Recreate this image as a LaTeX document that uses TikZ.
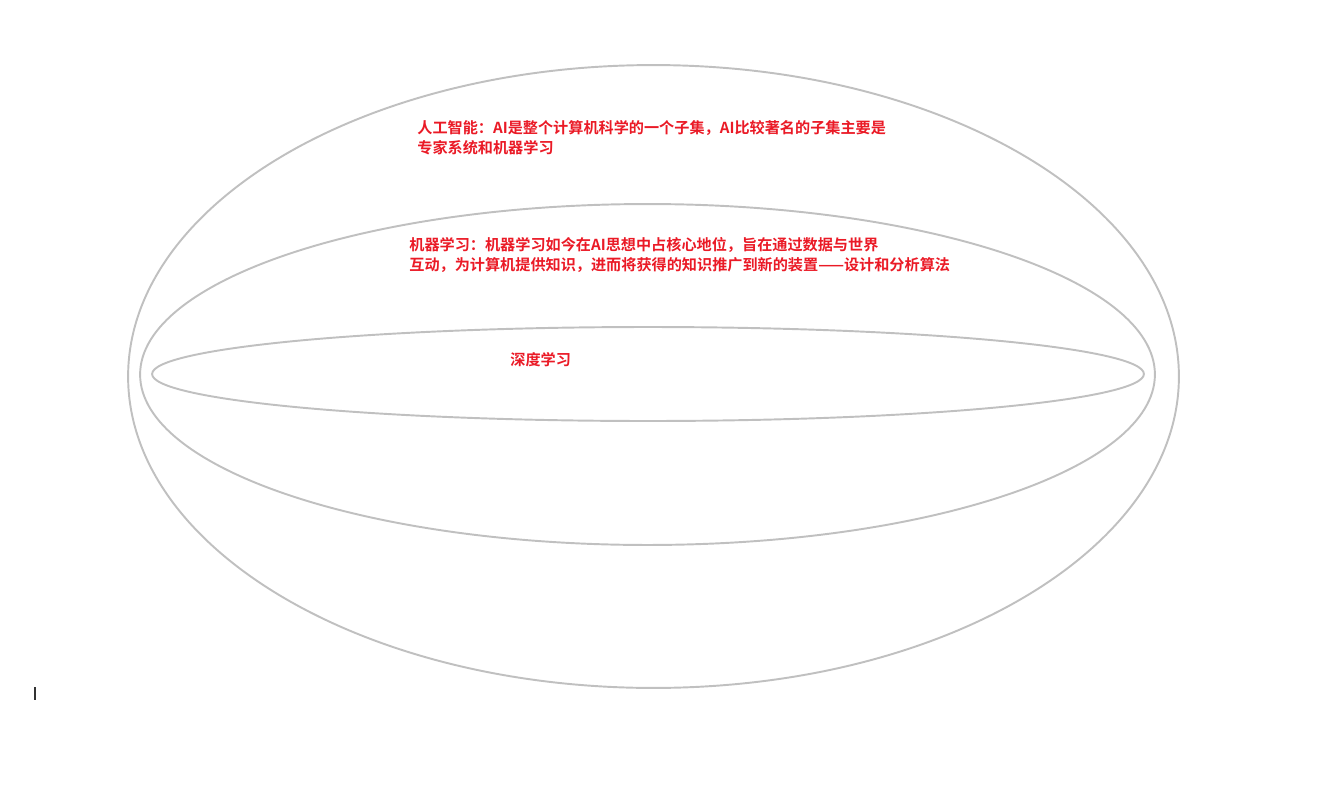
\documentclass[tikz,border=0pt]{standalone}
\usepackage{fontspec}
\newfontfamily\cjk[BoldFont={Noto Sans CJK SC Bold}]{Noto Sans CJK SC}
\definecolor{labelred}{RGB}{234,26,38}
\definecolor{rim}{RGB}{192,192,192}

\begin{document}
\begin{tikzpicture}[x=0.02cm,y=-0.02cm]
  \tikzset{
    setring/.style={rim,line width=1.1pt},
    setlabel/.style={labelred,font=\cjk\bfseries\fontsize{8.62}{11.4}\selectfont,
      anchor=north west,inner sep=0pt,align=left},
  }
  \useasboundingbox (0,0) rectangle (1344,791);
  % nested sets, outer to inner
  \draw[setring] (653.5,376.5) ellipse [x radius=10.51cm,y radius=6.23cm];
  \draw[setring] (647.5,374.5) ellipse [x radius=10.15cm,y radius=3.41cm];
  \draw[setring] (648,374) ellipse [x radius=9.92cm,y radius=0.94cm];
  \node[setlabel] (ai) at (417,120) {人工智能：AI是整个计算机科学的一个子集，AI比较著名的子集主要是\\专家系统和机器学习};
  \node[setlabel] (ml) at (409,237) {机器学习：机器学习如今在AI思想中占核心地位，旨在通过数据与世界\\互动，为计算机提供知识，进而将获得的知识推广到新的装置——设计和分析算法};
  \node[setlabel] (dl) at (510,352) {深度学习};
  \draw[black!80,line width=0.8pt] (35,687) -- (35,700);
\end{tikzpicture}
\end{document}
